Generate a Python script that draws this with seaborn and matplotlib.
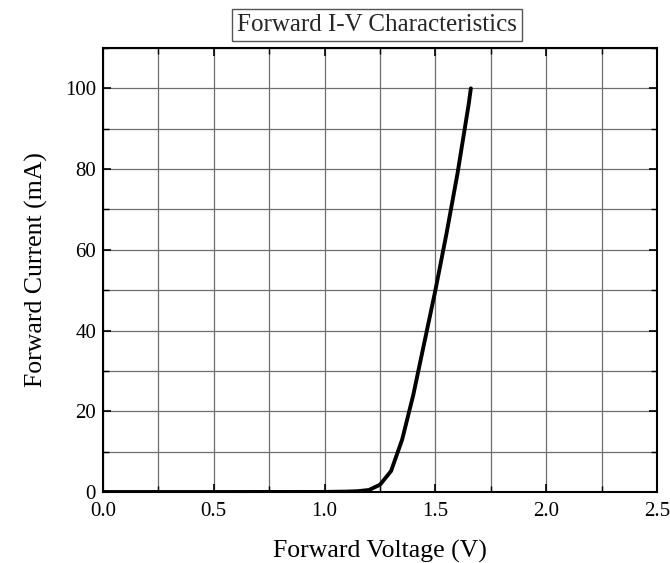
import matplotlib
matplotlib.use("Agg")
import matplotlib.pyplot as plt
import pandas as pd
import seaborn as sns
from matplotlib.ticker import MultipleLocator

voltage = [0.0, 0.5, 1.0, 1.1, 1.15, 1.2, 1.25, 1.3, 1.35, 1.4, 1.45, 1.5, 1.55, 1.6, 1.65, 1.66]
current = [0.0, 0.0, 0.02, 0.1, 0.2, 0.5, 1.8, 5.2, 13.0, 24.0, 37.0, 50.0, 64.0, 79.0, 96.0, 100.0]

sns.set_theme(style="ticks")
plt.rcParams["font.family"] = ["Liberation Serif", "DejaVu Serif"]

frame = pd.DataFrame({"voltage": voltage, "current": current})

fig = plt.figure(figsize=(6.7, 5.63), dpi=100)
ax = fig.add_axes([103 / 670, 1 - 492 / 563, 554 / 670, 444 / 563])
sns.lineplot(data=frame, x="voltage", y="current", color="black", linewidth=2.8, ax=ax)

ax.set_xlim(0, 2.5)
ax.set_ylim(0, 110)
ax.xaxis.set_major_locator(MultipleLocator(0.5))
ax.xaxis.set_minor_locator(MultipleLocator(0.25))
ax.yaxis.set_major_locator(MultipleLocator(20))
ax.yaxis.set_minor_locator(MultipleLocator(10))
ax.xaxis.set_major_formatter(plt.FuncFormatter(lambda v, p: f"{v:.1f}"))
ax.grid(True, which="both", color="#6e6e6e", linewidth=0.9)
ax.set_axisbelow(True)
ax.tick_params(which="both", direction="in", top=True, right=True, color="black")
ax.tick_params(which="major", length=6, width=1.2, labelsize=15, labelcolor="black")
ax.tick_params(axis="x", which="major", pad=7)
ax.tick_params(axis="y", which="major", pad=5)
ax.tick_params(which="minor", length=4, width=1.0)
for s in ax.spines.values():
    s.set_color("black")
    s.set_linewidth(1.5)

ax.set_xlabel("Forward Voltage (V)", fontsize=18.5, labelpad=14, color="black")
ax.set_ylabel("Forward Current (mA)", fontsize=18.5, labelpad=12, color="black")
fig.text(377 / 670, 1 - 25 / 563, "Forward I-V Characteristics", fontsize=18,
         ha="center", va="center",
         bbox=dict(boxstyle="square,pad=0.2", facecolor="white", edgecolor="#555555", linewidth=1))

fig.savefig("out.png", dpi=100)
